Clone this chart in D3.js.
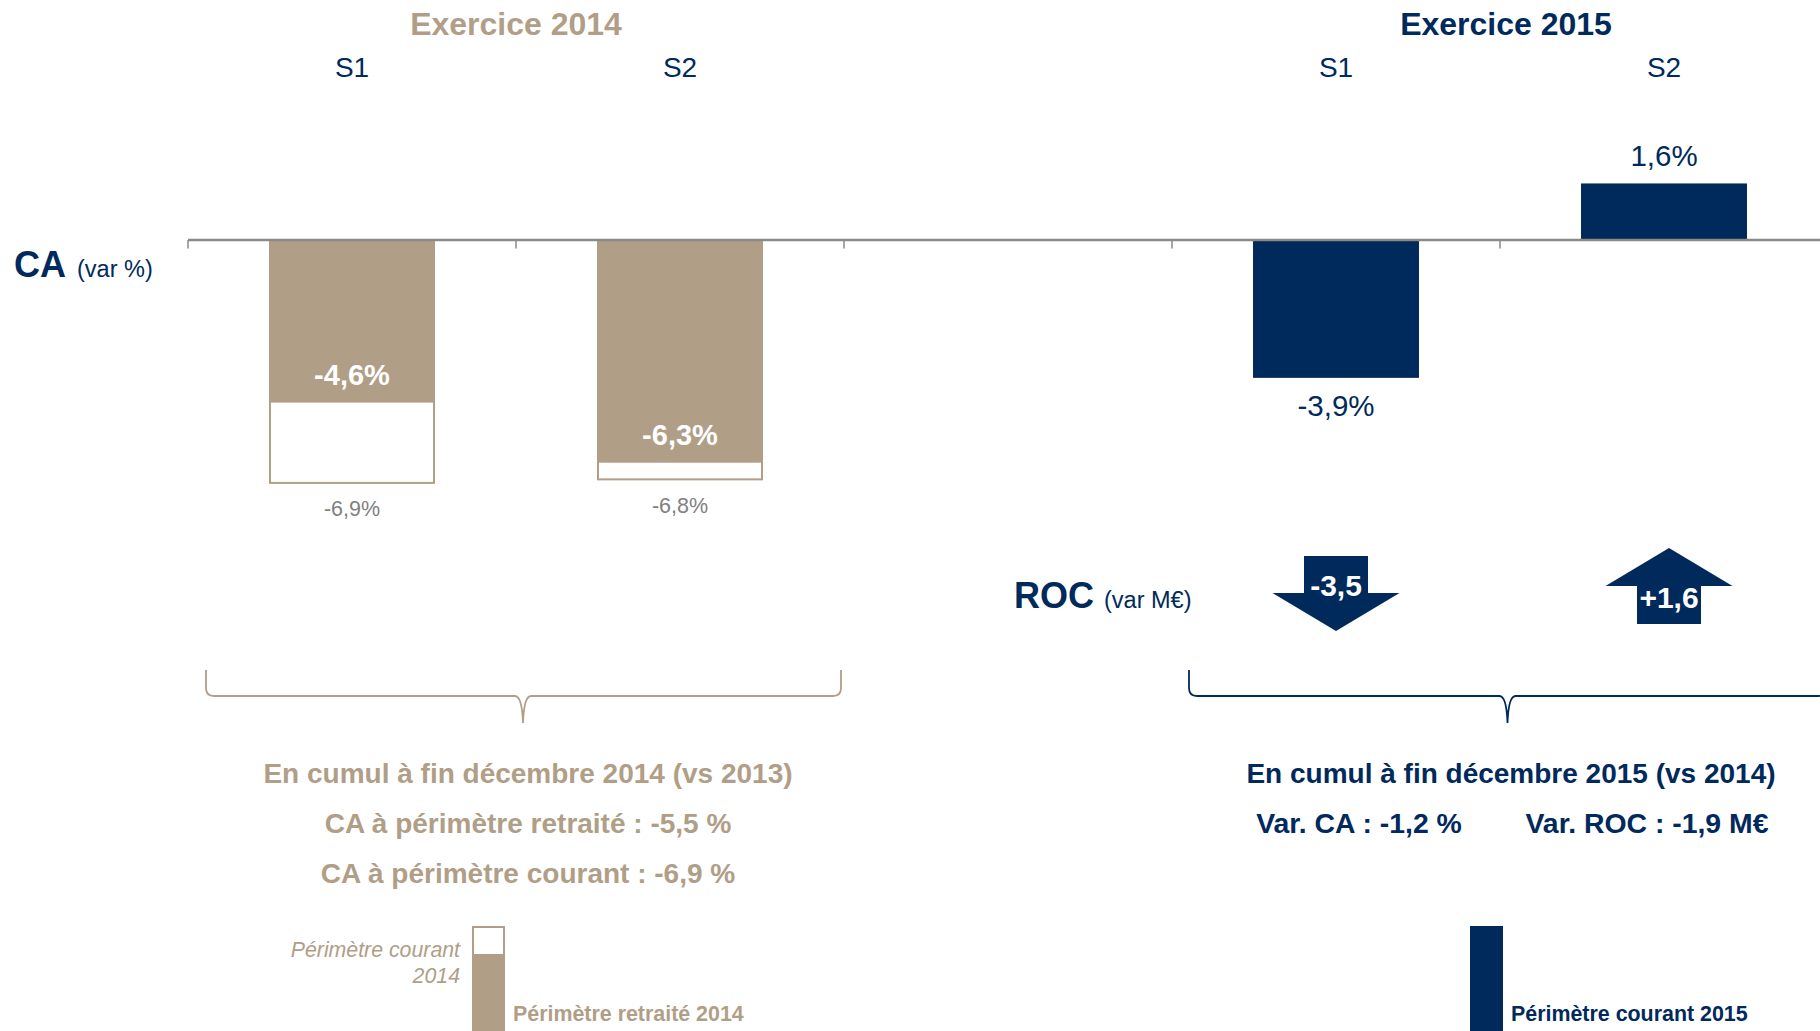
<!DOCTYPE html>
<html><head><meta charset="utf-8">
<script src="https://cdn.jsdelivr.net/npm/d3@7"></script>
<style>
html,body{margin:0;padding:0;background:#fff;overflow:hidden}
svg{display:block}
text{font-family:"Liberation Sans",Arial,Helvetica,sans-serif}
</style>
</head><body>
<svg id="c" width="1820" height="1031"></svg>
<script>
// ---- data ----
const periodKeys   = ["2014-S1", "2014-S2", "gap", "2015-S1", "2015-S2"];
const periodLabels = ["S1", "S2", "", "S1", "S2"];
const keys2014 = ["2014-S1", "2014-S2"];
const keys2015 = ["2015-S1", "2015-S2"];
const caRetraite2014 = [-4.6, -6.3];   // périmètre retraité 2014 (var %)
const caCourant2014  = [-6.9, -6.8];   // périmètre courant 2014 (var %)
const caCourant2015  = [-3.9, 1.6];    // périmètre courant 2015 (var %)
const roc2015        = [-3.5, 1.6];    // ROC (var M€)
const yearTitles = ["Exercice 2014", "Exercice 2015"];
const summary2014 = ["En cumul à fin décembre 2014 (vs 2013)",
                     "CA à périmètre retraité : -5,5 %",
                     "CA à périmètre courant : -6,9 %"];
const summary2015Title = "En cumul à fin décembre 2015 (vs 2014)";
const summary2015 = ["Var. CA : -1,2 %", "Var. ROC : -1,9 M€"];
const legend2014 = ["Périmètre courant", "2014", "Périmètre retraité 2014"];
const legend2015 = ["Périmètre courant 2015"];

// ---- style ----
const TAN = "#B09E87", NAVY = "#00295C", GREY = "#808080", AXIS = "#8A8A8A";
const svg = d3.select("#c");

const loc = d3.formatLocale({decimal: ",", thousands: " ", grouping: [3], currency: ["", "€"], minus: "-"});
const fPct = v => loc.format(".1f")(v) + "%";
const fRoc = v => loc.format("+.1f")(v);

// ---- scales ----
const x = d3.scaleBand().domain(periodKeys).range([188, 1828]).paddingInner(0.494).paddingOuter(0.247);
const y = d3.scaleLinear().domain([-7, 2]).range([240 + 7 * 35.35, 240 - 2 * 35.35]);
const bw = x.bandwidth();
const cx = k => x(k) + bw / 2;
const y0 = y(0);

// ---- 2014 bars ----
const d2014 = keys2014.map((k, i) => ({k, r: caRetraite2014[i], c: caCourant2014[i]}));
svg.selectAll(".c14").data(d2014).join("rect")
  .attr("x", d => x(d.k) + 1).attr("width", bw - 2)
  .attr("y", y0).attr("height", d => y(d.c) - y0 - 1)
  .attr("fill", "#fff").attr("stroke", TAN).attr("stroke-width", 2);
svg.selectAll(".r14").data(d2014).join("rect")
  .attr("x", d => x(d.k)).attr("width", bw)
  .attr("y", y0).attr("height", d => y(d.r) - y0)
  .attr("fill", TAN);
svg.selectAll(".lr14").data(d2014).join("text")
  .attr("x", d => cx(d.k)).attr("y", d => y(d.r) - 17.5)
  .attr("text-anchor", "middle").attr("fill", "#fff")
  .attr("font-weight", "bold").attr("font-size", 29)
  .text(d => fPct(d.r));
svg.selectAll(".lc14").data(d2014).join("text")
  .attr("x", d => cx(d.k)).attr("y", d => y(d.c) + 32.5)
  .attr("text-anchor", "middle").attr("fill", GREY)
  .attr("font-size", 21.5)
  .text(d => fPct(d.c));

// ---- 2015 bars ----
const d2015 = keys2015.map((k, i) => ({k, v: caCourant2015[i], roc: roc2015[i]}));
svg.selectAll(".b15").data(d2015).join("rect")
  .attr("x", d => x(d.k)).attr("width", bw)
  .attr("y", d => Math.min(y0, y(d.v))).attr("height", d => Math.abs(y(d.v) - y0))
  .attr("fill", NAVY);
svg.selectAll(".l15").data(d2015).join("text")
  .attr("x", d => cx(d.k)).attr("y", d => d.v < 0 ? y(d.v) + 38 : y(d.v) - 17)
  .attr("text-anchor", "middle").attr("fill", NAVY)
  .attr("font-size", 29.5)
  .text(d => fPct(d.v));

// ---- axis (zero line with ticks at band boundaries) ----
const bounds = periodKeys.map(k => x(k) - x.step() * x.paddingInner() / 2);
svg.append("line").attr("x1", bounds[0]).attr("x2", 1820).attr("y1", y0).attr("y2", y0)
  .attr("stroke", AXIS).attr("stroke-width", 2.4);
svg.selectAll(".tick").data(bounds).join("line")
  .attr("x1", d => d).attr("x2", d => d).attr("y1", y0).attr("y2", y0 + 8.5)
  .attr("stroke", AXIS).attr("stroke-width", 1.5);

// ---- period labels & year titles ----
svg.selectAll(".pl").data(periodKeys.filter((k, i) => periodLabels[i])).join("text")
  .attr("x", d => cx(d)).attr("y", 77)
  .attr("text-anchor", "middle").attr("fill", NAVY).attr("font-size", 28)
  .text(d => periodLabels[periodKeys.indexOf(d)]);
const titleX = [(cx(keys2014[0]) + cx(keys2014[1])) / 2, (cx(keys2015[0]) + cx(keys2015[1])) / 2 + 6];
svg.selectAll(".yt").data(yearTitles).join("text")
  .attr("x", (d, i) => titleX[i]).attr("y", 35)
  .attr("text-anchor", "middle").attr("font-weight", "bold").attr("font-size", 32)
  .attr("fill", (d, i) => i === 0 ? TAN : NAVY)
  .text(d => d);

// ---- row labels ----
const ca = svg.append("text").attr("x", 14).attr("y", 277).attr("fill", NAVY);
ca.append("tspan").attr("font-weight", "bold").attr("font-size", 36).text("CA");
ca.append("tspan").attr("font-size", 23.5).attr("dx", 11).text("(var %)");
const roc = svg.append("text").attr("x", 1014).attr("y", 608).attr("fill", NAVY);
roc.append("tspan").attr("font-weight", "bold").attr("font-size", 36).text("ROC");
roc.append("tspan").attr("font-size", 23.5).attr("dx", 10).text("(var M€)");

// ---- ROC arrows ----
function arrowPath(c, up) {
  const sw = 32, hw = 63.5;
  if (up) {
    return `M${c},548 L${c + hw},586 L${c + sw},586 L${c + sw},624 L${c - sw},624 L${c - sw},586 L${c - hw},586 Z`;
  }
  return `M${c - sw},556 L${c + sw},556 L${c + sw},593 L${c + hw},593 L${c},631 L${c - hw},593 L${c - sw},593 Z`;
}
const arrowX = d => cx(d.k) + (d.roc > 0 ? 5 : 0);
svg.selectAll(".arr").data(d2015).join("path")
  .attr("d", d => arrowPath(arrowX(d), d.roc > 0))
  .attr("fill", NAVY);
svg.selectAll(".arrl").data(d2015).join("text")
  .attr("x", d => arrowX(d)).attr("y", d => d.roc > 0 ? 608 : 596)
  .attr("text-anchor", "middle").attr("fill", "#fff")
  .attr("font-weight", "bold").attr("font-size", 30)
  .text(d => fRoc(d.roc));

// ---- braces ----
function brace(x1, x2, mid, top, line, tip) {
  const r = 8;
  return `M${x1},${top} L${x1},${line - r} Q${x1},${line} ${x1 + r},${line} L${mid - r},${line} ` +
         `Q${mid - 1},${line} ${mid},${tip} Q${mid + 1},${line} ${mid + r},${line} ` +
         `L${x2 - r},${line} Q${x2},${line} ${x2},${line - r} L${x2},${top}`;
}
svg.append("path").attr("d", brace(206, 841, 523, 670, 696, 723))
  .attr("fill", "none").attr("stroke", TAN).attr("stroke-width", 1.8);
svg.append("path").attr("d", brace(1189, 1826, 1507.5, 670, 696, 723))
  .attr("fill", "none").attr("stroke", NAVY).attr("stroke-width", 1.8);

// ---- summary text ----
svg.selectAll(".s14").data(summary2014).join("text")
  .attr("x", 528).attr("y", (d, i) => 783 + i * 50)
  .attr("text-anchor", "middle").attr("fill", TAN)
  .attr("font-weight", "bold").attr("font-size", 28)
  .text(d => d);
svg.append("text").attr("x", 1511).attr("y", 783)
  .attr("text-anchor", "middle").attr("fill", NAVY)
  .attr("font-weight", "bold").attr("font-size", 28)
  .text(summary2015Title);
svg.selectAll(".s15").data(summary2015).join("text")
  .attr("x", (d, i) => i === 0 ? 1359 : 1647).attr("y", 833)
  .attr("text-anchor", "middle").attr("fill", NAVY)
  .attr("font-weight", "bold").attr("font-size", 28.4)
  .text(d => d);

// ---- legends ----
svg.append("rect").attr("x", 473).attr("y", 927).attr("width", 31).attr("height", 140)
  .attr("fill", "#fff").attr("stroke", TAN).attr("stroke-width", 2);
svg.append("rect").attr("x", 472).attr("y", 954).attr("width", 33).attr("height", 100)
  .attr("fill", TAN);
svg.append("text").attr("x", 460).attr("y", 957).attr("text-anchor", "end")
  .attr("fill", TAN).attr("font-style", "italic").attr("font-size", 21.3).text(legend2014[0]);
svg.append("text").attr("x", 460).attr("y", 983).attr("text-anchor", "end")
  .attr("fill", TAN).attr("font-style", "italic").attr("font-size", 21.3).text(legend2014[1]);
svg.append("text").attr("x", 513).attr("y", 1021)
  .attr("fill", TAN).attr("font-weight", "bold").attr("font-size", 21.4).text(legend2014[2]);

svg.append("rect").attr("x", 1470).attr("y", 926).attr("width", 33).attr("height", 140)
  .attr("fill", NAVY);
svg.append("text").attr("x", 1511).attr("y", 1021)
  .attr("fill", NAVY).attr("font-weight", "bold").attr("font-size", 21.4).text(legend2015[0]);
</script>
</body></html>
